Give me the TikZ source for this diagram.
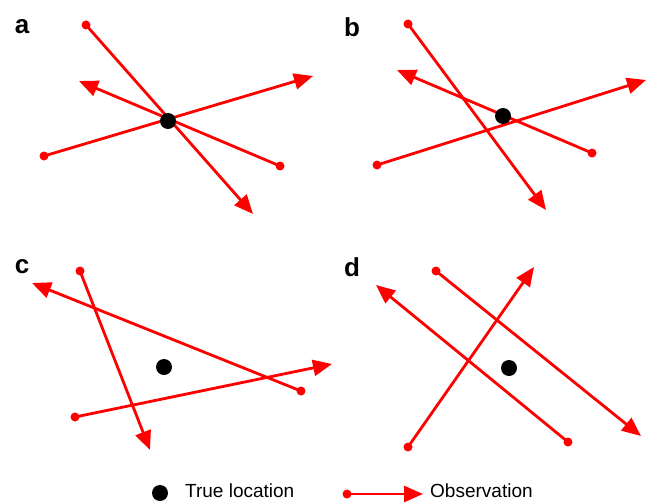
\documentclass[tikz,border=0pt]{standalone}
\usepackage{fontspec}
\setmainfont{Liberation Sans}
\usetikzlibrary{arrows.meta}
\tikzset{
  obs/.style={draw=red, line width=2.8pt, -{Triangle[length=19pt,width=16pt]}},
  startdot/.style={circle, fill=red, inner sep=0pt, minimum size=9pt},
  truedot/.style={circle, fill=black, inner sep=0pt, minimum size=16pt},
  panel/.style={font=\fontsize{26}{30}\selectfont\bfseries, anchor=center},
  legtext/.style={font=\fontsize{19}{22}\selectfont, anchor=west, inner sep=0pt}
}
\begin{document}
\begin{tikzpicture}[x=1pt,y=-1pt]
\useasboundingbox (0,0) rectangle (647,503);
% panel labels
\node[panel] (la) at (22,27) {a};
\node[panel] (lb) at (352,27) {b};
\node[panel] (lc) at (22,267) {c};
\node[panel] (ld) at (352,267) {d};
% panel a
\node[startdot] (a1s) at (86,25) {};  \coordinate (a1e) at (253,214);
\node[startdot] (a2s) at (280,166) {}; \coordinate (a2e) at (79,81);
\node[startdot] (a3s) at (44,156) {};  \coordinate (a3e) at (313,76);
\draw[obs] (a1s.center) -- (a1e);
\draw[obs] (a2s.center) -- (a2e);
\draw[obs] (a3s.center) -- (a3e);
\node[truedot] (ta) at (168,121) {};
% panel b
\node[startdot] (b1s) at (408,24) {};  \coordinate (b1e) at (546,210);
\node[startdot] (b2s) at (592,153) {}; \coordinate (b2e) at (397,70);
\node[startdot] (b3s) at (377,165) {}; \coordinate (b3e) at (646,80);
\draw[obs] (b1s.center) -- (b1e);
\draw[obs] (b2s.center) -- (b2e);
\draw[obs] (b3s.center) -- (b3e);
\node[truedot] (tb) at (503,116) {};
% panel c
\node[startdot] (c1s) at (80,271) {};  \coordinate (c1e) at (150,450);
\node[startdot] (c2s) at (301,391) {}; \coordinate (c2e) at (32,283);
\node[startdot] (c3s) at (75,417) {};  \coordinate (c3e) at (332,364);
\draw[obs] (c1s.center) -- (c1e);
\draw[obs] (c2s.center) -- (c2e);
\draw[obs] (c3s.center) -- (c3e);
\node[truedot] (tc) at (164,367) {};
% panel d
\node[startdot] (d1s) at (436,271) {}; \coordinate (d1e) at (641,436);
\node[startdot] (d2s) at (568,442) {}; \coordinate (d2e) at (376,285);
\node[startdot] (d3s) at (408,447) {}; \coordinate (d3e) at (534,267);
\draw[obs] (d1s.center) -- (d1e);
\draw[obs] (d2s.center) -- (d2e);
\draw[obs] (d3s.center) -- (d3e);
\node[truedot] (td) at (509,368) {};
% legend
\node[truedot] (lgdot) at (160,493) {};
\node[legtext] (lgtrue) at (185,491) {True location};
\node[startdot] (lgs) at (347,494) {}; \coordinate (lge) at (423,494);
\draw[obs] (lgs.center) -- (lge);
\node[legtext] (lgobs) at (430,491) {Observation};
\end{tikzpicture}
\end{document}
